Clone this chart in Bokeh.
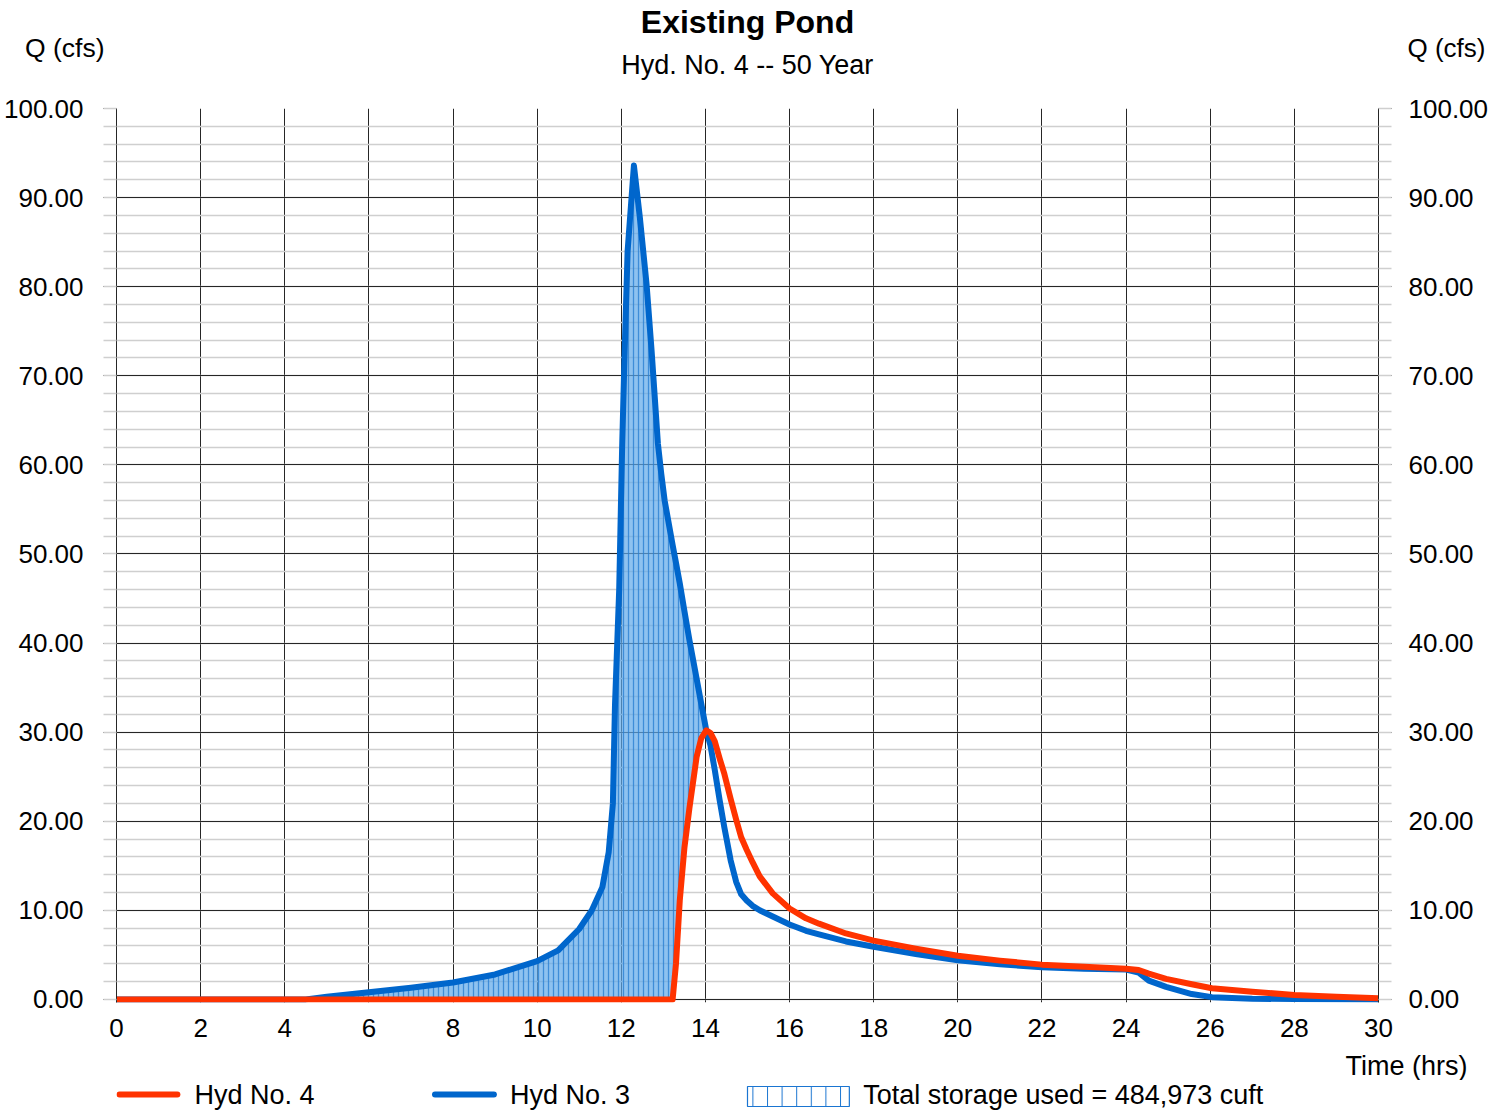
from bokeh.plotting import figure
from bokeh.models import (Range1d, LinearAxis, SingleIntervalTicker, PrintfTickFormatter,
                          FixedTicker)
from bokeh.layouts import column
from bokeh.core.properties import value
from bokeh.embed import file_html
from bokeh.resources import INLINE

# ---------------- data ----------------
time_hrs = [0, 4.5, 5, 6, 7, 8, 9, 10, 10.5, 11, 11.3, 11.55, 11.7, 11.8, 11.85, 11.95,
            12.02, 12.08, 12.15, 12.3, 12.44, 12.6, 12.72, 12.87, 12.95, 13.03, 13.22,
            13.3, 13.39, 13.5, 13.62, 13.79, 13.9, 14.02, 14.12, 14.22, 14.34, 14.45,
            14.6, 14.73, 14.85, 14.98, 15.12, 15.29, 15.6, 16.0, 16.39, 16.7, 17.34, 18, 19, 20, 21,
            22, 23, 24, 24.3, 24.54, 24.95, 25.56, 26.04, 27, 28, 29, 30]

hyd3_inflow = [0, 0, 0.3, 0.8, 1.3, 1.9, 2.8, 4.3, 5.5, 7.9, 10.0, 12.6, 16.5, 22.0, 33.0, 46.0,
               62.0, 72.8, 84.0, 93.6, 87.8, 80.3, 72.8, 62.4, 59.0, 56.0, 51.0,
               49.0, 46.7, 43.6, 40.3, 36.0, 33.2, 30.2, 28.5, 25.8, 22.3, 19.3,
               15.6, 13.2, 11.8, 11.1, 10.5, 10.0, 9.3, 8.4, 7.7, 7.3, 6.5, 5.9, 5.1, 4.4, 3.95,
               3.6, 3.45, 3.35, 3.0, 2.1, 1.4, 0.6, 0.25, 0.08, 0.03, 0.01, 0]

hyd4_outflow = [0, 0, 0, 0, 0, 0, 0, 0, 0, 0, 0, 0, 0, 0, 0, 0,
                0, 0, 0, 0, 0, 0, 0, 0, 0, 0, 0,
                4.0, 11.1, 17.0, 21.5, 27.2, 29.3, 30.2, 29.9, 29.0, 27.0, 25.3,
                22.5, 20.2, 18.2, 16.8, 15.4, 13.8, 11.9, 10.2, 9.1, 8.5, 7.4, 6.6, 5.7, 4.9, 4.35,
                3.9, 3.65, 3.45, 3.3, 2.9, 2.3, 1.7, 1.25, 0.85, 0.5, 0.3, 0.12]

assert len(time_hrs) == len(hyd3_inflow) == len(hyd4_outflow)

title_text = "Existing Pond"
subtitle_text = "Hyd. No. 4 -- 50 Year"
y_label = "Q (cfs)"
x_label = "Time (hrs)"
legend_labels = ["Hyd No. 4", "Hyd No. 3", "Total storage used = 484,973 cuft"]

RED = "#ff3300"
BLUE = "#0066cc"
FONT = "Liberation Sans"
W = 1491
BL, BR = 116, 111   # left / right borders around the plotting frame

storage_top = [max(b, r) for b, r in zip(hyd3_inflow, hyd4_outflow)]


def bare_figure(height, x_range, y_range, top=0, bottom=0):
    f = figure(width=W, height=height, x_range=x_range, y_range=y_range,
               x_axis_location=None, y_axis_location=None,
               output_backend="svg", toolbar_location=None,
               min_border_left=BL, min_border_right=BR, min_border_top=top, min_border_bottom=bottom)
    f.grid.visible = False
    f.outline_line_color = None
    return f


def caption_axis(text, standoff, size="27px"):
    return LinearAxis(ticker=FixedTicker(ticks=[]), axis_label=text,
                      axis_label_orientation="horizontal", axis_label_standoff=standoff,
                      axis_line_color=None, major_tick_out=0, major_tick_in=0,
                      minor_tick_out=0, minor_tick_in=0, major_label_standoff=0,
                      axis_label_text_font=FONT, axis_label_text_font_size=size,
                      axis_label_text_font_style="normal", axis_label_text_color="black")


# ---------------- header (title, subtitle, Q (cfs) captions) ----------------
hd = bare_figure(94, Range1d(0, 30), Range1d(0, 94))
hd.text(x=[15], y=[73], text=[title_text], text_align="center", text_baseline="middle",
        text_font=value(FONT), text_font_size="32px", text_font_style="bold", text_color="black")
hd.text(x=[15], y=[30], text=[subtitle_text], text_align="center", text_baseline="middle",
        text_font=value(FONT), text_font_size="27px", text_color="black")
hd.add_layout(caption_axis(y_label, 12, "26.5px"), "left")
hd.add_layout(caption_axis(y_label, 29, "26px"), "right")

# ---------------- main chart ----------------
p = figure(width=W, height=956, x_range=Range1d(0, 30), y_range=Range1d(-0.35, 100),
           output_backend="svg", toolbar_location=None,
           min_border_left=BL, min_border_right=BR, min_border_top=14, min_border_bottom=48)
p.outline_line_color = None
p.background_fill_color = "white"

p.varea(x=time_hrs, y1=hyd4_outflow, y2=storage_top,
        fill_color="#5ea8ea", fill_alpha=0.7,
        hatch_pattern="|", hatch_color="#2a80d2", hatch_alpha=0.8,
        hatch_scale=5, hatch_weight=1.3)
p.line(time_hrs, hyd3_inflow, line_color=BLUE, line_width=6, line_join="round", line_cap="round")
p.line(time_hrs, hyd4_outflow, line_color=RED, line_width=6, line_join="round", line_cap="round")

p.xgrid.ticker = SingleIntervalTicker(interval=2, num_minor_ticks=0)
p.xgrid.grid_line_color = "#262626"
p.xgrid.grid_line_width = 1
p.ygrid.ticker = SingleIntervalTicker(interval=10, num_minor_ticks=5)
p.ygrid.grid_line_color = "#262626"
p.ygrid.grid_line_width = 1
p.ygrid.minor_grid_line_color = "#cfcfcf"
p.ygrid.minor_grid_line_width = 1.3

xa = p.xaxis[0]
xa.ticker = SingleIntervalTicker(interval=2, num_minor_ticks=0)
xa.axis_line_color = None
xa.major_tick_line_color = None
xa.minor_tick_line_color = None
xa.major_tick_out = 0
xa.major_label_standoff = 16
xa.major_label_text_font = FONT
xa.major_label_text_font_size = "26px"
xa.major_label_text_color = "black"

ra = LinearAxis()
p.add_layout(ra, "right")
for ax, standoff in [(p.yaxis[0], 20), (ra, 17)]:
    ax.ticker = SingleIntervalTicker(interval=10, num_minor_ticks=5)
    ax.formatter = PrintfTickFormatter(format="%.2f")
    ax.axis_line_color = "#262626"
    ax.major_tick_line_color = "#262626"
    ax.major_tick_out = 13
    ax.major_tick_in = 0
    ax.minor_tick_line_color = "#cfcfcf"
    ax.minor_tick_line_width = 1.3
    ax.minor_tick_out = 13
    ax.minor_tick_in = 0
    ax.major_label_standoff = standoff
    ax.major_label_text_font = FONT
    ax.major_label_text_font_size = "26px"
    ax.major_label_text_color = "black"

# ---------------- "Time (hrs)" caption strip ----------------
tf = bare_figure(30, Range1d(0, 1), Range1d(0, 1))
tf.add_layout(caption_axis(x_label, -33), "right")

# ---------------- legend strip (x in pixels along the frame) ----------------
lf = bare_figure(30, Range1d(BL, W - BR), Range1d(0, 30))
row_y = 16
lf.segment(x0=[119], y0=[row_y], x1=[177], y1=[row_y], line_color=RED, line_width=6, line_cap="round")
lf.segment(x0=[435], y0=[row_y], x1=[494], y1=[row_y], line_color=BLUE, line_width=6, line_cap="round")
lf.rect(x=[799], y=[14], width=102, height=20, fill_color="white",
        hatch_pattern="|", hatch_color="#1a75d1", hatch_scale=14.6, hatch_weight=1,
        line_color="#1a75d1", line_width=1.2)
lf.text(x=[194, 510, 864], y=[row_y] * 3, text=legend_labels,
        text_font=value(FONT), text_font_size="27px", text_baseline="middle", text_color="black")

layout = column(hd, p, tf, lf, spacing=0)
open("out.html", "w").write(file_html(layout, INLINE))
